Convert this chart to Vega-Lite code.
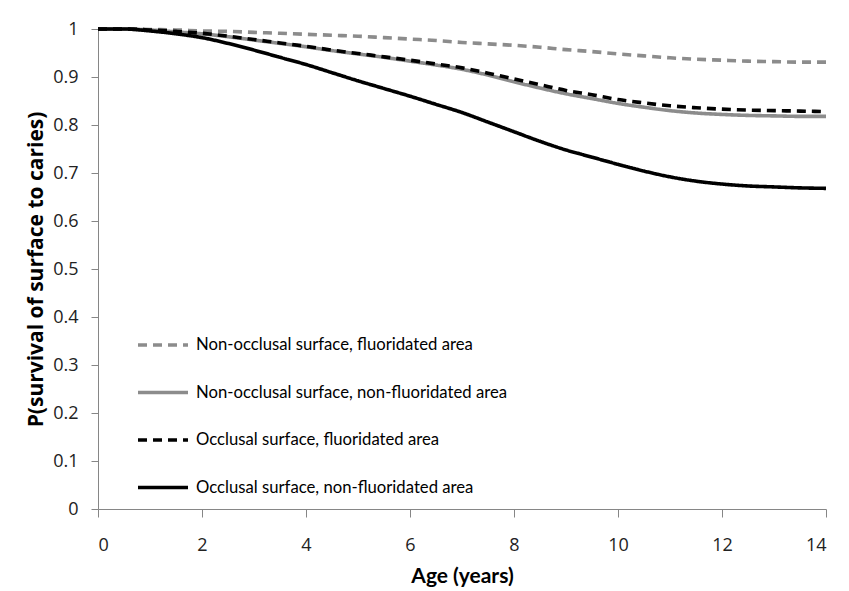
{
  "$schema": "https://vega.github.io/schema/vega-lite/v6.json",
  "width": 728,
  "height": 480,
  "autosize": {"type": "none"},
  "padding": {"left": 98, "top": 29, "right": 23, "bottom": 82},
  "background": "white",
  "config": {
    "view": {"stroke": null},
    "axis": {
      "grid": false,
      "domainColor": "#868686",
      "tickColor": "#868686",
      "labelColor": "#222222",
      "titleColor": "#000000",
      "labelFont": "Open Sans",
      "labelFontSize": 18
    }
  },
  "data": {
    "values": [
      {"age": 0, "nf": 1, "nn": 1, "of": 1, "on": 1},
      {"age": 0.5, "nf": 1, "nn": 1, "of": 1, "on": 1},
      {"age": 1, "nf": 0.999, "nn": 0.998, "of": 0.998, "on": 0.996},
      {"age": 1.5, "nf": 0.998, "nn": 0.994, "of": 0.995, "on": 0.99},
      {"age": 2, "nf": 0.996, "nn": 0.99, "of": 0.991, "on": 0.982},
      {"age": 2.5, "nf": 0.995, "nn": 0.984, "of": 0.985, "on": 0.97},
      {"age": 3, "nf": 0.993, "nn": 0.977, "of": 0.978, "on": 0.956},
      {"age": 3.5, "nf": 0.991, "nn": 0.97, "of": 0.971, "on": 0.941},
      {"age": 4, "nf": 0.989, "nn": 0.963, "of": 0.964, "on": 0.926},
      {"age": 4.5, "nf": 0.987, "nn": 0.955, "of": 0.956, "on": 0.909},
      {"age": 5, "nf": 0.985, "nn": 0.948, "of": 0.949, "on": 0.892},
      {"age": 5.5, "nf": 0.982, "nn": 0.941, "of": 0.942, "on": 0.876},
      {"age": 6, "nf": 0.979, "nn": 0.933, "of": 0.935, "on": 0.86},
      {"age": 6.5, "nf": 0.976, "nn": 0.925, "of": 0.927, "on": 0.843},
      {"age": 7, "nf": 0.972, "nn": 0.916, "of": 0.919, "on": 0.826},
      {"age": 7.5, "nf": 0.969, "nn": 0.904, "of": 0.908, "on": 0.806},
      {"age": 8, "nf": 0.966, "nn": 0.89, "of": 0.896, "on": 0.786},
      {"age": 8.5, "nf": 0.962, "nn": 0.877, "of": 0.884, "on": 0.766},
      {"age": 9, "nf": 0.957, "nn": 0.865, "of": 0.872, "on": 0.748},
      {"age": 9.5, "nf": 0.953, "nn": 0.855, "of": 0.863, "on": 0.733},
      {"age": 10, "nf": 0.948, "nn": 0.845, "of": 0.853, "on": 0.718},
      {"age": 10.5, "nf": 0.944, "nn": 0.837, "of": 0.846, "on": 0.704},
      {"age": 11, "nf": 0.94, "nn": 0.83, "of": 0.84, "on": 0.692},
      {"age": 11.5, "nf": 0.937, "nn": 0.825, "of": 0.836, "on": 0.683},
      {"age": 12, "nf": 0.935, "nn": 0.822, "of": 0.833, "on": 0.677},
      {"age": 12.5, "nf": 0.933, "nn": 0.82, "of": 0.831, "on": 0.673},
      {"age": 13, "nf": 0.932, "nn": 0.819, "of": 0.83, "on": 0.671},
      {"age": 13.5, "nf": 0.931, "nn": 0.818, "of": 0.829, "on": 0.669},
      {"age": 14, "nf": 0.931, "nn": 0.818, "of": 0.828, "on": 0.668}
    ]
  },
  "transform": [
    {"fold": ["nf", "nn", "of", "on"], "as": ["series", "p"]}
  ],
  "mark": {"type": "line", "interpolate": "monotone", "strokeWidth": 3.6, "strokeCap": "butt"},
  "encoding": {
    "x": {
      "field": "age",
      "type": "quantitative",
      "scale": {"domain": [0, 14], "nice": false},
      "axis": {
        "values": [0, 2, 4, 6, 8, 10, 12, 14],
        "tickSize": 8,
        "labelPadding": 19,
        "title": "Age (years)",
        "titleFont": "Lato",
        "titleFontSize": 21,
        "titleFontWeight": "bold",
        "titlePadding": 11
      }
    },
    "y": {
      "field": "p",
      "type": "quantitative",
      "scale": {"domain": [0, 1], "nice": false},
      "axis": {
        "values": [0, 0.1, 0.2, 0.3, 0.4, 0.5, 0.6, 0.7, 0.8, 0.9, 1],
        "format": "~g",
        "tickSize": 7,
        "labelPadding": 13,
        "title": "P(survival of surface to caries)",
        "titleFont": "Open Sans",
        "titleFontSize": 21,
        "titleFontWeight": "bold",
        "titlePadding": 6
      }
    },
    "color": {
      "field": "series",
      "type": "nominal",
      "scale": {
        "domain": ["nf", "nn", "of", "on"],
        "range": ["#8c8c8c", "#8c8c8c", "#000000", "#000000"]
      },
      "legend": {
        "orient": "none",
        "legendX": 38,
        "legendY": 289,
        "title": null,
        "padding": 0,
        "symbolType": "stroke",
        "symbolSize": 2500,
        "symbolStrokeWidth": 3.5,
        "labelFont": "Lato",
        "labelFontSize": 16.7,
        "labelColor": "#000000",
        "labelOffset": 6,
        "labelLimit": 0,
        "rowPadding": 11.5,
        "labelExpr": "{'nf': 'Non-occlusal surface, fluoridated area', 'nn': 'Non-occlusal surface, non-fluoridated area', 'of': 'Occlusal surface, fluoridated area', 'on': 'Occlusal surface, non-fluoridated area'}[datum.label]"
      }
    },
    "strokeDash": {
      "field": "series",
      "type": "nominal",
      "scale": {
        "domain": ["nf", "nn", "of", "on"],
        "range": [[9, 6], [1, 0], [9, 6], [1, 0]]
      },
      "legend": null
    }
  }
}
